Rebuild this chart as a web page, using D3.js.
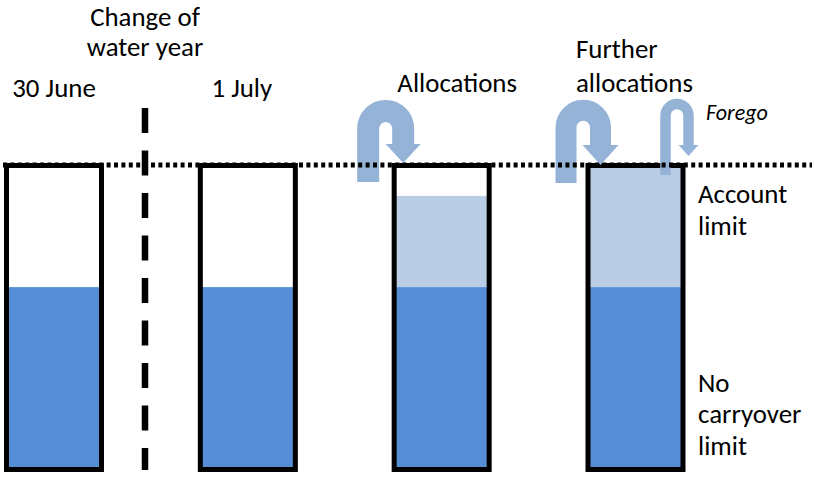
<!DOCTYPE html>
<html>
<head>
<meta charset="utf-8">
<script src="https://cdn.jsdelivr.net/npm/d3@7"></script>
<style>
  body { margin: 0; background: #fff; }
  text { font-family: Carlito, Calibri, Lato, sans-serif; fill: #000; }
</style>
</head>
<body>
<div id="chart"></div>
<script>
// water account at each stage (percent of account limit)
var periods = ["30 June", "1 July", "Allocations", "Further allocations"];
var carryover = [60, 60, 60, 60];
var allocated = [0, 0, 30, 40];
var limit = 100;

var width = 814, height = 477;
var svg = d3.select("#chart").append("svg")
    .attr("width", width).attr("height", height);

var x = d3.scalePoint().domain(periods).range([54, 635.5]);
var y = d3.scaleLinear().domain([0, limit]).range([469.5, 165.5]);
var barW = 95;

var darkBlue = "#558ed5", lightBlue = "#b9cde5", arrowBlue = "#95b3d7";

// fit font so widths look like the original (Calibri 20pt)
var probe = svg.append("text").style("font-size", "100px").text("Account");
var fs = 0.95 * 100 * 94 / probe.node().getComputedTextLength();
probe.remove();

var bars = svg.selectAll("g.bar").data(periods).enter().append("g").attr("class", "bar");

bars.append("rect")
    .attr("x", function (d) { return x(d) - barW / 2; })
    .attr("width", barW)
    .attr("y", function (d, i) { return y(carryover[i] + allocated[i]); })
    .attr("height", function (d, i) { return y(carryover[i]) - y(carryover[i] + allocated[i]); })
    .attr("fill", lightBlue);

bars.append("rect")
    .attr("x", function (d) { return x(d) - barW / 2; })
    .attr("width", barW)
    .attr("y", function (d, i) { return y(carryover[i]); })
    .attr("height", function (d, i) { return y(0) - y(carryover[i]); })
    .attr("fill", darkBlue);

// U-turn arrows
function uArrow(xl, xr, cy, yl, yr, w, hw, tip) {
  var r = (xr - xl) / 2;
  svg.append("path")
      .attr("d", "M" + xl + "," + yl + " L" + xl + "," + cy +
            " A" + r + "," + r + " 0 0 1 " + xr + "," + cy + " L" + xr + "," + (yr + 0.5))
      .attr("fill", "none").attr("stroke", arrowBlue).attr("stroke-width", w);
  svg.append("path")
      .attr("d", "M" + (xr - hw) + "," + yr + " L" + (xr + hw) + "," + yr + " L" + xr + "," + tip + "Z")
      .attr("fill", arrowBlue);
}
var c3 = x(periods[2]), c4 = x(periods[3]);
uArrow(c3 - 73.5, c3 - 38.5, 128.5, 182, 144, 22, 17.5, 163);
uArrow(c4 - 69.5, c4 - 35, 127.5, 183, 145, 21, 18, 165);
uArrow(c4 + 30, c4 + 53, 115.5, 175, 145, 10.5, 10, 156);

bars.append("rect")
    .attr("x", function (d) { return x(d) - barW / 2; })
    .attr("width", barW)
    .attr("y", y(limit))
    .attr("height", y(0) - y(limit))
    .attr("fill", "none")
    .attr("stroke", "#000")
    .attr("stroke-width", 5);

// account limit (dotted) and change of water year (dashed)
svg.append("line")
    .attr("x1", 3).attr("x2", 812)
    .attr("y1", y(limit) - 0.5).attr("y2", y(limit) - 0.5)
    .attr("stroke", "#000").attr("stroke-width", 5)
    .attr("stroke-dasharray", "4,3.4");

svg.append("line")
    .attr("x1", 145).attr("x2", 145)
    .attr("y1", 108).attr("y2", 470)
    .attr("stroke", "#000").attr("stroke-width", 6.5)
    .attr("stroke-dasharray", "25,17.5");

// labels
function label(txt, tx, ty, anchor, size, italic) {
  svg.append("text")
      .attr("x", tx).attr("y", ty)
      .attr("text-anchor", anchor || "start")
      .style("font-size", (size || fs) + "px")
      .style("font-style", italic ? "italic" : "normal")
      .text(txt);
}
label("Change of", 145, 26, "middle");
label("water year", 145, 56, "middle");
label(periods[0], x(periods[0]), 97, "middle");
label(periods[1], x(periods[1]) - 6, 97, "middle");
label(periods[2], x(periods[2]) + 15.5, 92, "middle");
label("Further", 576, 58, "start");
label("allocations", 576, 92, "start");
label("Forego", 706, 120, "start", fs * 0.82, true);
label("Account", 698, 203, "start");
label("limit", 698, 235, "start");
label("No", 698, 392, "start");
label("carryover", 698, 423, "start");
label("limit", 698, 455, "start");
</script>
</body>
</html>
